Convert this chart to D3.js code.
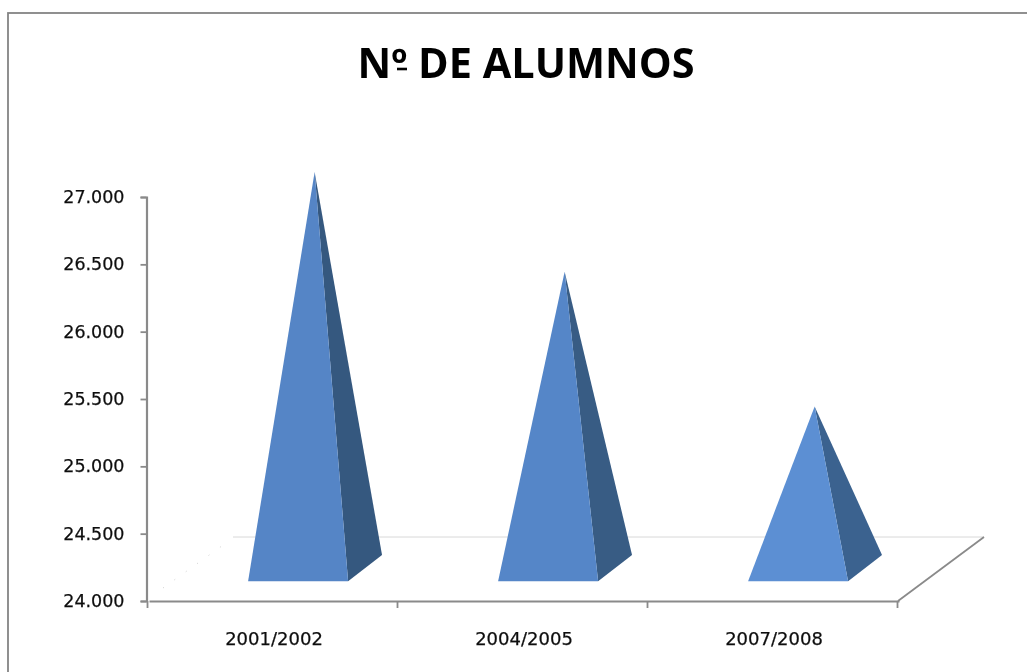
<!DOCTYPE html>
<html><head><meta charset="utf-8">
<script src="https://cdn.jsdelivr.net/npm/d3@7"></script>
<style>html,body{margin:0;padding:0;background:#fff;overflow:hidden}svg{display:block}</style>
</head><body><div id="chart"></div>
<script>
const titleText = "Nº DE ALUMNOS";
const categories = ["2001/2002","2004/2005","2007/2008"];
const values = [26940,26200,25200];
const yTicks = [24000,24500,25000,25500,26000,26500,27000];
const frontColors = ["#5485c6","#5486c8","#5b8fd3"];
const sideColors = ["#36587f","#375b84","#3b628f"];

const W=1027,H=672;
const svg=d3.select("#chart").append("svg").attr("width",W).attr("height",H);
const defs=svg.append("defs");
defs.append("filter").attr("id","soft").append("feGaussianBlur").attr("stdDeviation",0.5);
const y=d3.scaleLinear().domain([24000,27000]).range([601,197]);
const x=d3.scaleBand().domain(categories).range([147,897]);
const fmt=v=>d3.format(",")(v).replace(",",".");
// depth axis of the floor, 0 = front edge, 1 = back edge
const depthX=d3.scaleLinear().domain([0,1]).range([0,87]);
const depthY=d3.scaleLinear().domain([0,1]).range([0,-64]);

svg.append("rect").attr("x",8).attr("y",13).attr("width",1040).attr("height",700)
  .attr("fill","none").attr("stroke","#848484").attr("stroke-width",1.8).attr("filter","url(#soft)");

const titleG=svg.append("g").attr("filter","url(#soft)");
titleG.append("text").attr("x",526).attr("y",78).attr("text-anchor","middle")
  .attr("font-family","'Open Sans','Noto Sans',sans-serif").attr("font-weight",700)
  .attr("font-size",41).attr("fill","#000").attr("textLength",337).attr("lengthAdjust","spacingAndGlyphs")
  .text(titleText);
titleG.append("line").attr("x1",397).attr("x2",407).attr("y1",69).attr("y2",69)
  .attr("stroke","#000").attr("stroke-width",2.6);

const g=svg.append("g").attr("filter","url(#soft)");
g.append("line").attr("x1",233).attr("x2",984).attr("y1",537).attr("y2",537)
  .attr("stroke","#d8d8d8").attr("stroke-width",1);
g.append("line").attr("x1",163).attr("y1",588).attr("x2",226).attr("y2",543)
  .attr("stroke","#c8c8c8").attr("stroke-width",0.9).attr("stroke-dasharray","1 13");
g.append("line").attr("x1",898).attr("y1",y(24000)).attr("x2",897+depthX(1)).attr("y2",y(24000)+depthY(1))
  .attr("stroke","#8a8a8a").attr("stroke-width",1.8);

// pyramids
const halfW=50, dFx=0.3, dBx=0.69, dCx=0.49, dFy=0.31, dBy=0.72, dCy=0.515;
const pts=a=>a.map(p=>p.join(",")).join(" ");
categories.forEach((c,i)=>{
  const cx=x(c)+x.bandwidth()/2, y0=y(24000);
  const fy=y0+depthY(dFy), by=y0+depthY(dBy);
  const fx=cx+depthX(dFx), bx=cx+depthX(dBx);
  const apex=[cx+depthX(dCx), y(values[i])+depthY(dCy)];
  g.append("polygon").attr("points",pts([[fx+halfW,fy],[bx+halfW,by],apex])).attr("fill",sideColors[i]);
  g.append("polygon").attr("points",pts([[fx-halfW,fy],[fx+halfW,fy],apex])).attr("fill",frontColors[i]);
});

// axes
const axisG=svg.append("g").attr("filter","url(#soft)");
const ya=axisG.append("g").attr("transform","translate(146.5,0)")
  .call(d3.axisLeft(y).tickValues(yTicks).tickFormat(fmt).tickSize(6).tickPadding(16));
const xa=axisG.append("g").attr("transform","translate(2,601)")
  .call(d3.axisBottom(x).tickSize(0).tickPadding(31));
axisG.selectAll("path.domain").attr("stroke","#8a8a8a").attr("stroke-width",2.2);
ya.selectAll("line").attr("stroke","#8a8a8a").attr("stroke-width",1.8);
const xEdges=[147,397,647,897];
axisG.append("g").selectAll("line").data(xEdges).join("line")
  .attr("x1",d=>d+0.5).attr("x2",d=>d+0.5).attr("y1",601).attr("y2",608)
  .attr("stroke","#8a8a8a").attr("stroke-width",1.8);
axisG.selectAll("text").attr("font-family","'DejaVu Sans',sans-serif").attr("font-size",17.5)
  .attr("fill","#111").attr("stroke","#111").attr("stroke-width",0.25);
xa.selectAll("text").attr("font-size",18);
</script></body></html>
